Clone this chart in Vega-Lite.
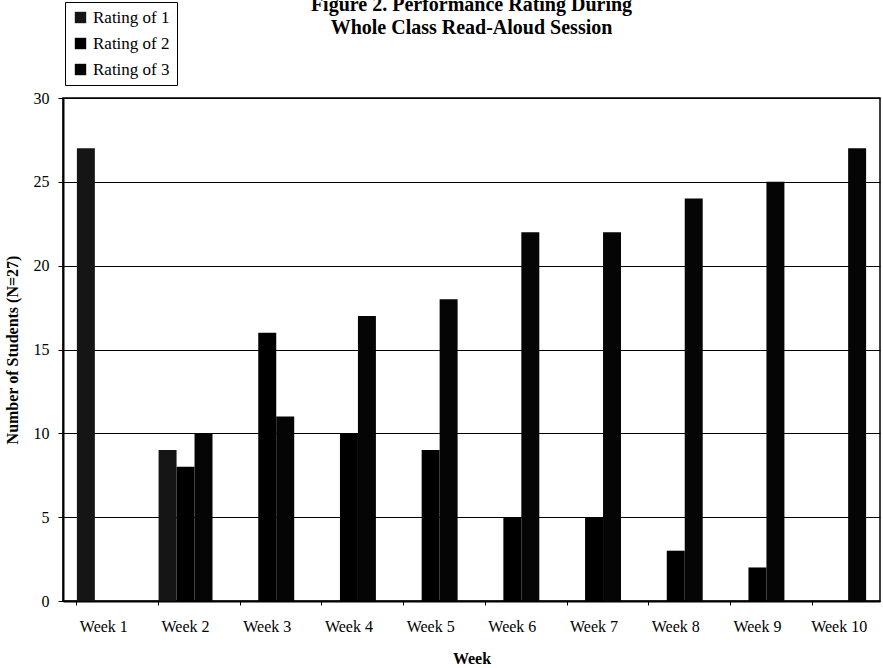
{
  "$schema": "https://vega.github.io/schema/vega-lite/v6.json",
  "width": 817,
  "height": 503,
  "autosize": {"type": "none"},
  "padding": {"left": 63, "top": 98, "right": 3, "bottom": 67},
  "background": "white",
  "title": {
    "text": ["Figure 2.  Performance Rating During", "Whole Class Read-Aloud Session"],
    "font": "Liberation Serif",
    "fontSize": 20,
    "fontWeight": "bold",
    "color": "black",
    "anchor": "middle",
    "offset": -36,
    "lineHeight": 23
  },
  "config": {
    "view": {"stroke": "black", "strokeWidth": 1.5},
    "axis": {
      "labelFont": "Liberation Serif",
      "titleFont": "Liberation Serif",
      "labelColor": "black",
      "titleColor": "black",
      "domainColor": "black",
      "tickColor": "black",
      "gridColor": "black",
      "gridOpacity": 1
    }
  },
  "data": {
    "values": [
      {"week": "Week 1", "rating": "Rating of 1", "count": 27},
      {"week": "Week 1", "rating": "Rating of 2", "count": 0},
      {"week": "Week 1", "rating": "Rating of 3", "count": 0},
      {"week": "Week 2", "rating": "Rating of 1", "count": 9},
      {"week": "Week 2", "rating": "Rating of 2", "count": 8},
      {"week": "Week 2", "rating": "Rating of 3", "count": 10},
      {"week": "Week 3", "rating": "Rating of 1", "count": 0},
      {"week": "Week 3", "rating": "Rating of 2", "count": 16},
      {"week": "Week 3", "rating": "Rating of 3", "count": 11},
      {"week": "Week 4", "rating": "Rating of 1", "count": 0},
      {"week": "Week 4", "rating": "Rating of 2", "count": 10},
      {"week": "Week 4", "rating": "Rating of 3", "count": 17},
      {"week": "Week 5", "rating": "Rating of 1", "count": 0},
      {"week": "Week 5", "rating": "Rating of 2", "count": 9},
      {"week": "Week 5", "rating": "Rating of 3", "count": 18},
      {"week": "Week 6", "rating": "Rating of 1", "count": 0},
      {"week": "Week 6", "rating": "Rating of 2", "count": 5},
      {"week": "Week 6", "rating": "Rating of 3", "count": 22},
      {"week": "Week 7", "rating": "Rating of 1", "count": 0},
      {"week": "Week 7", "rating": "Rating of 2", "count": 5},
      {"week": "Week 7", "rating": "Rating of 3", "count": 22},
      {"week": "Week 8", "rating": "Rating of 1", "count": 0},
      {"week": "Week 8", "rating": "Rating of 2", "count": 3},
      {"week": "Week 8", "rating": "Rating of 3", "count": 24},
      {"week": "Week 9", "rating": "Rating of 1", "count": 0},
      {"week": "Week 9", "rating": "Rating of 2", "count": 2},
      {"week": "Week 9", "rating": "Rating of 3", "count": 25},
      {"week": "Week 10", "rating": "Rating of 1", "count": 0},
      {"week": "Week 10", "rating": "Rating of 2", "count": 0},
      {"week": "Week 10", "rating": "Rating of 3", "count": 27}
    ]
  },
  "mark": {"type": "bar", "stroke": null},
  "encoding": {
    "x": {
      "field": "week",
      "type": "nominal",
      "sort": null,
      "scale": {"paddingInner": 0.34, "paddingOuter": 0.17},
      "axis": {
        "title": "Week",
        "titleFontSize": 16,
        "titleFontWeight": "bold",
        "titlePadding": 16,
        "labelAngle": 0,
        "labelFontSize": 16,
        "labelPadding": 13,
        "domainWidth": 2,
        "tickSize": 4,
        "bandPosition": 0
      }
    },
    "xOffset": {
      "field": "rating",
      "type": "nominal",
      "scale": {"paddingInner": 0, "paddingOuter": 0}
    },
    "y": {
      "field": "count",
      "type": "quantitative",
      "scale": {"domain": [0, 30]},
      "axis": {
        "title": "Number of Students (N=27)",
        "titleFontSize": 16,
        "titleFontWeight": "bold",
        "titlePadding": 13,
        "values": [0, 5, 10, 15, 20, 25, 30],
        "labelFontSize": 16,
        "labelPadding": 9,
        "domainWidth": 2,
        "tickSize": 5,
        "grid": true,
        "gridWidth": 1.2
      }
    },
    "color": {
      "field": "rating",
      "type": "nominal",
      "scale": {"range": ["#151515", "#000000", "#050505"]},
      "legend": {
        "title": null,
        "orient": "none",
        "legendX": 2,
        "legendY": -96,
        "strokeColor": "black",
        "padding": 7,
        "symbolType": "square",
        "symbolSize": 130,
        "symbolStrokeWidth": 0,
        "labelFont": "Liberation Serif",
        "labelFontSize": 17,
        "labelColor": "black",
        "labelOffset": 4,
        "rowPadding": 8
      }
    }
  }
}
